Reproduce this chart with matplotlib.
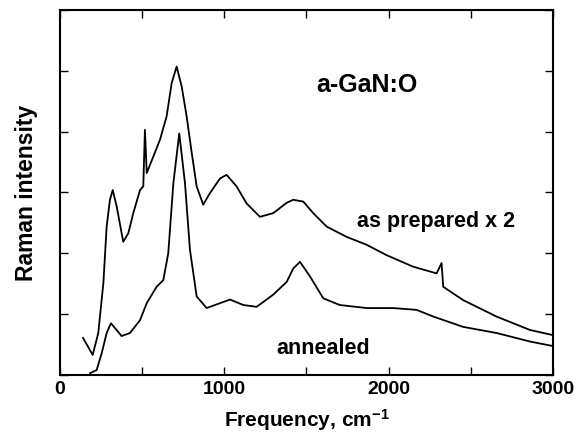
import numpy as np
import matplotlib.pyplot as plt
from matplotlib.ticker import MultipleLocator, NullFormatter

plt.rcParams['font.family'] = ['Liberation Sans', 'DejaVu Sans']
plt.rcParams['font.weight'] = 'bold'
plt.rcParams['mathtext.fontset'] = 'custom'
plt.rcParams['mathtext.rm'] = 'Liberation Sans:bold'
plt.rcParams['mathtext.bf'] = 'Liberation Sans:bold'
plt.rcParams['mathtext.default'] = 'bf'

# as prepared x 2 (upper spectrum)
freq_prep = [140, 199, 233, 264, 284, 304, 321, 345, 385, 416, 446, 487, 507, 517, 528,
             568, 609, 649, 680, 710, 741, 771, 802, 832, 872, 913, 974, 1014, 1075,
             1136, 1217, 1298, 1380, 1420, 1481, 1542, 1623, 1745, 1867, 1988, 2150,
             2293, 2323, 2333, 2455, 2658, 2861, 2993]
int_prep = [0.61, 0.33, 0.69, 1.51, 2.44, 2.88, 3.04, 2.77, 2.19, 2.33, 2.66, 3.04, 3.10, 4.03, 3.32,
            3.59, 3.87, 4.25, 4.80, 5.07, 4.74, 4.25, 3.65, 3.10, 2.80, 2.99, 3.23, 3.29, 3.10,
            2.82, 2.60, 2.66, 2.83, 2.88, 2.85, 2.66, 2.44, 2.27, 2.14, 1.97, 1.78,
            1.67, 1.84, 1.45, 1.23, 0.96, 0.74, 0.66]

# annealed (lower spectrum)
freq_ann = [183, 223, 254, 284, 310, 335, 375, 426, 487, 528, 588, 629, 659, 690, 726,
            761, 791, 832, 893, 974, 1035, 1116, 1197, 1298, 1380, 1420, 1461, 1522,
            1603, 1704, 1867, 2029, 2171, 2273, 2455, 2658, 2861, 2993]
int_ann = [0.03, 0.08, 0.36, 0.69, 0.85, 0.77, 0.64, 0.69, 0.90, 1.18, 1.45, 1.56, 2.00, 3.15, 3.97,
           3.15, 2.06, 1.29, 1.10, 1.18, 1.24, 1.15, 1.12, 1.32, 1.53, 1.75, 1.86, 1.62,
           1.26, 1.15, 1.10, 1.10, 1.07, 0.96, 0.79, 0.69, 0.55, 0.48]

fig = plt.figure(figsize=(5.77, 4.34), dpi=100)
ax = fig.add_axes([0.104, 0.136, 0.854, 0.841])

ax.plot(freq_prep, int_prep, color='black', linewidth=1.3)
ax.plot(freq_ann, int_ann, color='black', linewidth=1.3)

ax.set_xlim(0, 3000)
ax.set_ylim(0, 6)
ax.xaxis.set_major_locator(MultipleLocator(1000))
ax.xaxis.set_minor_locator(MultipleLocator(500))
ax.yaxis.set_major_locator(MultipleLocator(1))
ax.yaxis.set_major_formatter(NullFormatter())
ax.tick_params(which='both', direction='in', top=True, right=True, width=1.0)
ax.tick_params(which='major', length=6, labelsize=14, pad=4)
ax.tick_params(which='minor', length=6)
for lab in ax.get_xticklabels():
    lab.set_fontweight('bold')
for s in ax.spines.values():
    s.set_linewidth(1.5)

ax.set_xlabel('Frequency, cm$^{-1}$', fontsize=15, fontweight='bold', labelpad=7)
ax.set_ylabel('Raman intensity', fontsize=16.5, fontweight='bold', labelpad=12)

ax.text(1871, 4.77, 'a-GaN:O', fontsize=18, fontweight='bold', ha='center', va='center')
ax.text(2290, 2.52, 'as prepared x 2', fontsize=15.5, fontweight='bold', ha='center', va='center')
ax.text(1601, 0.44, 'annealed', fontsize=15.5, fontweight='bold', ha='center', va='center')

plt.savefig('out.png', dpi=100)
